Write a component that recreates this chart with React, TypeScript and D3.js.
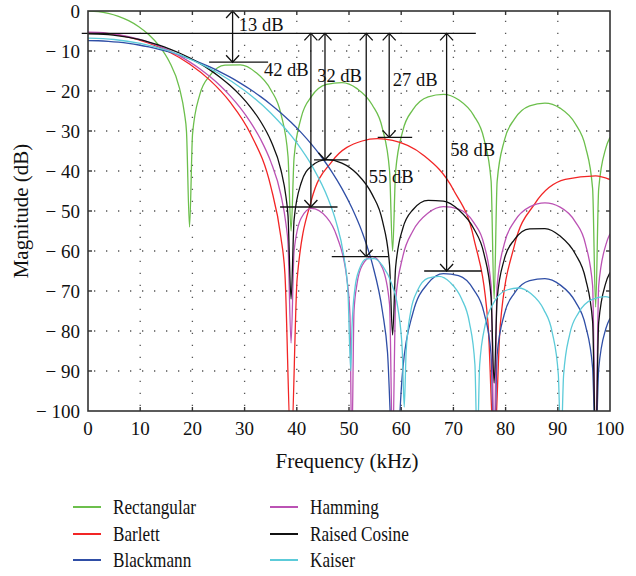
import React from "react";
import * as d3 from "d3";

type P = [number, number];

// Frequency (kHz), magnitude (dB)
const rectangular: P[] = [
  [0, 0], [1.95, -0.14], [3.89, -0.58], [5.84, -1.33], [7.78, -2.42], [9.73, -3.92], [11.67, -5.94], [13.62, -8.69], [15.56, -12.62], [17.51, -19.23], [18.48, -25.61], [18.87, -30.2], [19.45, -54],
  [20.03, -30.73], [21.4, -20.97], [23.34, -16.15], [26.26, -13.55], [29.18, -13.47], [32.09, -15.29], [35.01, -19.67], [36.96, -25.72], [38.32, -36.36], [38.9, -55],
  [39.48, -36.62], [40.85, -26.59], [42.79, -21.41], [45.71, -18.36], [48.63, -17.9], [51.54, -19.41], [54.46, -23.51], [56.41, -29.39], [57.77, -39.93], [58.35, -60],
  [58.93, -40.1], [60.3, -29.97], [62.24, -24.67], [65.16, -21.44], [68.08, -20.82], [70.99, -22.19], [73.91, -26.16], [75.86, -31.96], [77.22, -42.45], [77.8, -72],
  [78.38, -42.58], [79.75, -32.4], [81.69, -27.03], [84.61, -23.71], [87.53, -23.01], [90.44, -24.29], [93.36, -28.19], [95.31, -33.95], [96.67, -44.4], [97.25, -74],
  [97.83, -44.5], [99.2, -34.29], [100, -31.58],
];

const barlett: P[] = [
  [0, -5.4], [3.89, -5.68], [7.78, -6.56], [11.67, -8.06], [15.56, -10.24], [19.45, -13.24], [23.34, -17.28], [27.23, -22.78], [31.12, -30.64], [35.01, -43.86], [36.96, -56.62], [37.73, -65.8], [38.9, -110],
  [40.07, -66.86], [42.79, -47.34], [46.68, -37.7], [52.52, -32.5], [55.43, -31.92], [58.35, -32.33], [64.19, -35.98], [70.02, -44.74], [73.91, -56.84], [76.63, -78.12], [77.8, -110],
  [78.97, -78.64], [81.69, -58.58], [85.58, -48.22], [91.42, -42.12], [97.25, -41.2], [100, -42.13],
];

const blackmann: P[] = [
  [0, -7.4], [1.95, -7.44], [3.89, -7.57], [5.84, -7.79], [7.78, -8.1], [9.73, -8.5], [11.67, -8.99], [13.62, -9.57], [15.56, -10.25], [17.51, -11.03], [19.45, -11.91], [21.4, -12.89], [23.34, -13.99], [25.29, -15.21], [27.23, -16.54], [29.18, -18.02], [31.12, -19.63], [33.07, -21.41], [35.01, -23.35], [36.96, -25.48], [38.9, -27.82], [40.85, -30.41], [42.79, -33.29], [44.74, -36.5], [46.68, -40.15], [48.63, -44.33], [50.57, -49.26], [52.52, -55.28], [54.46, -63.17], [56.41, -75.13], [57.38, -85.39], [58.35, -110],
  [59.42, -110], [59.71, -101.6], [60.3, -89.58], [62.24, -75.5], [65.16, -68.05], [68.08, -65.64], [70.99, -66.14], [73.91, -69.7], [75.86, -75.39], [77.22, -85.84], [77.8, -110],
  [78.38, -85.97], [79.75, -75.81], [81.69, -70.52], [84.61, -67.39], [87.53, -66.91], [90.44, -68.47], [93.36, -72.67], [95.31, -78.64], [96.67, -89.24], [97.25, -110],
  [97.83, -89.48], [99.2, -79.43], [100, -76.81],
];

const hamming: P[] = [
  [0, -5.3], [1.95, -5.37], [3.89, -5.58], [5.84, -5.92], [7.78, -6.41], [9.73, -7.05], [11.67, -7.84], [13.62, -8.79], [15.56, -9.91], [17.51, -11.21], [19.45, -12.71], [21.4, -14.43], [23.34, -16.4], [25.29, -18.64], [27.23, -21.22], [29.18, -24.22], [31.12, -27.77], [33.07, -32.08], [35.01, -37.65], [36.96, -46.0], [37.93, -53.31], [38.32, -58.28], [38.9, -83],
  [39.48, -60.0], [40.85, -51.74], [42.79, -49.36], [45.71, -51.58], [47.65, -56.24], [49.6, -67.0], [50.18, -75.96], [50.53, -110],
  [50.96, -75.01], [51.54, -68.17], [52.52, -63.62], [54.46, -61.35], [56.41, -64.27], [57.77, -73.35], [58.35, -110],
  [58.93, -72.53], [60.3, -61.43], [62.24, -55.01], [65.16, -50.52], [68.08, -48.93], [70.99, -49.53], [73.91, -52.9], [75.86, -58.36], [77.22, -68.62], [77.8, -110],
  [78.38, -68.58], [79.75, -58.21], [81.69, -52.59], [84.61, -48.96], [87.53, -47.98], [90.44, -49.02], [93.36, -52.7], [95.31, -58.33], [96.67, -68.7], [97.25, -110],
  [97.83, -68.74], [99.2, -58.45], [100, -55.69],
];

const raisedCosine: P[] = [
  [0, -5.7], [1.95, -5.76], [3.89, -5.92], [5.84, -6.21], [7.78, -6.6], [9.73, -7.12], [11.67, -7.76], [13.62, -8.54], [15.56, -9.45], [17.51, -10.5], [19.45, -11.72], [21.4, -13.12], [23.34, -14.71], [25.29, -16.54], [27.23, -18.64], [29.18, -21.1], [31.12, -24.02], [33.07, -27.62], [35.01, -32.37], [36.96, -39.75], [37.93, -46.51], [38.32, -51.25], [38.9, -72],
  [39.48, -52.21], [40.85, -42.94], [42.79, -38.8], [45.71, -37.17], [48.63, -38.01], [51.54, -40.7], [54.46, -45.91], [56.41, -52.49], [57.77, -63.49], [58.35, -81],
  [58.93, -64.06], [60.3, -54.37], [62.24, -49.68], [65.16, -47.34], [68.08, -47.55], [70.99, -49.7], [73.91, -54.43], [75.86, -60.72], [77.22, -71.53], [77.8, -93],
  [78.38, -71.94], [79.75, -62.08], [81.69, -57.15], [84.61, -54.48], [87.53, -54.4], [90.44, -56.28], [93.36, -60.75], [95.31, -66.89], [96.67, -77.6], [97.25, -110],
  [97.83, -77.92], [99.2, -67.96], [100, -65.39],
];

const kaiser: P[] = [
  [0, -6.8], [5, -7.13], [10, -8.12], [15, -9.81], [20, -12.26], [25, -15.56], [30, -19.87], [35, -25.49], [40, -32.98], [43, -38.92], [46, -46.95], [47.5, -52.6], [49, -61.27], [49.8, -70.3], [50.34, -90],
  [50.57, -79.16], [51.13, -69.4], [51.97, -64.58], [53.35, -61.98], [54.84, -61.89], [56.45, -63.72], [58.15, -68.1], [59.35, -74.15], [60.2, -84.79], [60.58, -99],
  [60.95, -85.05], [61.84, -75.02], [63.14, -69.84], [65.16, -66.79], [67.24, -66.33], [69.38, -67.84], [71.57, -71.94], [73.06, -77.82], [74.12, -88.36], [74.57, -110],
  [75.03, -88.53], [76.1, -78.4], [77.65, -73.1], [80.01, -69.87], [82.4, -69.25], [84.83, -70.62], [87.29, -74.59], [88.94, -80.39], [90.1, -90.88], [90.6, -110],
  [91.11, -91.01], [92.28, -80.83], [93.97, -75.46], [96.51, -72.14], [99.08, -71.43], [100, -71.66],
];

const seriesNames = ["Rectangular", "Barlett", "Blackmann", "Hamming", "Raised Cosine", "Kaiser"];
const seriesData = [rectangular, barlett, blackmann, hamming, raisedCosine, kaiser];
const seriesColors = ["#6cbf4c", "#f22525", "#2f4ea6", "#bb52b4", "#111111", "#5ccbd9"];

const xTicks = [0, 10, 20, 30, 40, 50, 60, 70, 80, 90, 100];
const yTicks = [0, -10, -20, -30, -40, -50, -60, -70, -80, -90, -100];

// Annotation arrows: frequency, top dB, bottom dB, bar from/to frequency
const arrowFreq = [27.7, 42.7, 45.4, 53.3, 57.7, 68.7];
const arrowTop = [0, -5.6, -5.6, -5.6, -5.6, -5.6];
const arrowBottom = [-12.8, -49, -37.2, -61.4, -31.6, -65];
const barFrom = [23.2, 36.8, 43.3, 46.7, 55.5, 64.4];
const barTo = [34.5, 47.8, 49.9, 57.5, 62.1, 75.4];
const labelText = ["13 dB", "42 dB", "32 dB", "55 dB", "27 dB", "58 dB"];
const labelFreq = [28.9, 33.7, 43.9, 53.8, 58.4, 69.4];
const labelDb = [-5.1, -16.25, -17.75, -43.0, -18.75, -36.25];
const refLevel = -5.6;
const refFrom = -1.2;
const refTo = 74.3;

const FONT = '"Liberation Serif", "DejaVu Serif", "Times New Roman", Times, serif';

export default function App() {
  const x = d3.scaleLinear().domain([0, 100]).range([88, 610]);
  const y = d3.scaleLinear().domain([-100, 0]).range([411, 11]);
  const line = d3
    .line<P>()
    .x((d) => x(d[0]))
    .y((d) => y(d[1]))
    .curve(d3.curveMonotoneX);

  const [x0, x1] = x.range();
  const [y0, y1] = y.range(); // y0 bottom, y1 top

  const legendCols = [
    { lx: 73, tx: 113 },
    { lx: 270, tx: 310 },
  ];
  const legendRows = [507, 534, 560];
  const ts = { fontFamily: FONT };

  return (
    <svg
      width={636}
      height={576}
      style={{ position: "absolute", left: 0, top: 0, background: "#fff", fontFamily: FONT }}
    >
      <defs>
        <clipPath id="plotClip">
          <rect x={x0} y={y1} width={x1 - x0} height={y0 - y1} />
        </clipPath>
      </defs>
      <rect width={636} height={576} fill="#fff" />

      {/* grid */}
      <g stroke="#555" strokeWidth={1.3} strokeDasharray="1.3 10.7" fill="none">
        {xTicks.slice(1, -1).map((t) => (
          <line key={"gx" + t} x1={x(t)} x2={x(t)} y1={y0} y2={y1} strokeDashoffset={-5} />
        ))}
        {yTicks.slice(1, -1).map((t) => (
          <line key={"gy" + t} x1={x0} x2={x1} y1={y(t)} y2={y(t)} strokeDashoffset={-6} />
        ))}
      </g>

      {/* series */}
      <g clipPath="url(#plotClip)" fill="none" strokeWidth={1.3} strokeLinejoin="round">
        {seriesData.map((s, i) => (
          <path key={seriesNames[i]} d={line(s) || ""} stroke={seriesColors[i]} />
        ))}
      </g>

      {/* annotations */}
      <g stroke="#111" strokeWidth={1.3} fill="none">
        <line x1={x(refFrom)} x2={x(refTo)} y1={y(refLevel)} y2={y(refLevel)} />
        {arrowFreq.map((f, i) => {
          const ax = x(f);
          const yt = y(arrowTop[i]);
          const yb = y(arrowBottom[i]);
          return (
            <g key={"ar" + i}>
              <line x1={ax} x2={ax} y1={yt} y2={yb} />
              <path d={`M${ax - 6.5},${yt + 7}L${ax},${yt}L${ax + 6.5},${yt + 7}`} />
              <path d={`M${ax - 6.5},${yb - 7}L${ax},${yb}L${ax + 6.5},${yb - 7}`} />
              <line x1={x(barFrom[i])} x2={x(barTo[i])} y1={yb} y2={yb} />
            </g>
          );
        })}
      </g>
      <g fill="#111">
        {labelText.map((t, i) => (
          <text key={"lt" + i} x={x(labelFreq[i])} y={y(labelDb[i])} style={{ ...ts, fontSize: "18.5px" }}>
            {t}
          </text>
        ))}
      </g>

      {/* frame */}
      <rect x={x0} y={y1} width={x1 - x0} height={y0 - y1} fill="none" stroke="#333" strokeWidth={1.6} />
      <g stroke="#333" strokeWidth={1.4}>
        {xTicks.slice(1, -1).map((t) => (
          <g key={"tx" + t}>
            <line x1={x(t)} x2={x(t)} y1={y0} y2={y0 - 4} />
            <line x1={x(t)} x2={x(t)} y1={y1} y2={y1 + 4} />
          </g>
        ))}
        {yTicks.slice(1, -1).map((t) => (
          <g key={"ty" + t}>
            <line x1={x0} x2={x0 + 4} y1={y(t)} y2={y(t)} />
            <line x1={x1} x2={x1 - 4} y1={y(t)} y2={y(t)} />
          </g>
        ))}
      </g>

      {/* tick labels */}
      <g fill="#111">
        {xTicks.map((t) => (
          <text key={"xl" + t} x={x(t)} y={435} textAnchor="middle" style={{ ...ts, fontSize: "19px" }}>
            {t}
          </text>
        ))}
        {yTicks.map((t) => (
          <text key={"yl" + t} x={80} y={y(t) + 6.5} textAnchor="end" style={{ ...ts, fontSize: "19px" }}>
            {t === 0 ? "0" : "\u2212 " + Math.abs(t)}
          </text>
        ))}
      </g>

      {/* axis titles */}
      <text x={347} y={468} textAnchor="middle" fill="#111" style={{ ...ts, fontSize: "21px" }}>
        Frequency (kHz)
      </text>
      <text
        transform={`translate(28,${(y0 + y1) / 2}) rotate(-90)`}
        textAnchor="middle"
        fill="#111"
        style={{ ...ts, fontSize: "21px" }}
      >
        Magnitude (dB)
      </text>

      {/* legend */}
      {seriesNames.map((name, i) => {
        const col = legendCols[Math.floor(i / 3)];
        const ry = legendRows[i % 3];
        return (
          <g key={"lg" + name}>
            <line x1={col.lx} x2={col.lx + 28} y1={ry} y2={ry} stroke={seriesColors[i]} strokeWidth={2} />
            <text
              transform={`translate(${col.tx},${ry + 7}) scale(0.86,1)`}
              fill="#111"
              style={{ ...ts, fontSize: "20px" }}
            >
              {name}
            </text>
          </g>
        );
      })}
    </svg>
  );
}
